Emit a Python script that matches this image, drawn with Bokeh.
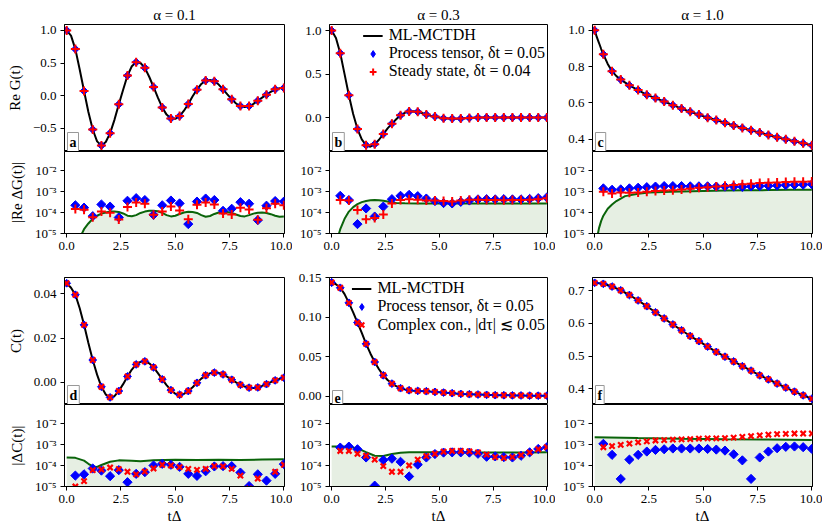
import numpy as np
from bokeh.plotting import figure
from bokeh.layouts import column, row
from bokeh.models import (Range1d, FixedTicker, CustomJSTickFormatter, NumeralTickFormatter,
                          Label)
from bokeh.embed import file_html
from bokeh.resources import INLINE

FONT = "'Liberation Serif'"

# ---------------- data ----------------
t_pts = [0.0, 0.4, 0.8, 1.2, 1.6, 2.0, 2.4, 2.8, 3.2, 3.6, 4.0, 4.4, 4.8, 5.2, 5.6,
         6.0, 6.4, 6.8, 7.2, 7.6, 8.0, 8.4, 8.8, 9.2, 9.6, 10.0]
t_err = t_pts[1:]
t_fine = [0.0, 0.2, 0.4, 0.6, 0.8, 1.0, 1.2, 1.4, 1.6, 1.8, 2.0, 2.2, 2.4, 2.6, 2.8, 3.0,
          3.2, 3.4, 3.6, 3.8, 4.0, 4.2, 4.4, 4.6, 4.8, 5.0, 5.2, 5.4, 5.6, 5.8, 6.0, 6.2,
          6.4, 6.6, 6.8, 7.0, 7.2, 7.4, 7.6, 7.8, 8.0, 8.2, 8.4, 8.6, 8.8, 9.0, 9.2, 9.4,
          9.6, 9.8, 10.0]

# main panel markers (Re G(t) and C(t))
mk_a = [1.0, 0.713, 0.072, -0.518, -0.764, -0.574, -0.133, 0.308, 0.513, 0.426, 0.133, -0.18,
        -0.349, -0.313, -0.128, 0.092, 0.231, 0.221, 0.097, -0.056, -0.159, -0.159, -0.077,
        0.015, 0.097, 0.118]
mk_b = [1.0, 0.740, 0.256, -0.132, -0.318, -0.306, -0.19, -0.07, 0.027, 0.07, 0.066, 0.035,
        0.012, -0.008, -0.012, -0.012, -0.004, 0.0, 0.001, 0.001, 0.0, 0.0, 0.0, 0.0, 0.0, 0.0]
mk_c = [1.0, 0.868, 0.775, 0.729, 0.697, 0.671, 0.645, 0.627, 0.608, 0.588, 0.569, 0.552,
        0.536, 0.519, 0.506, 0.491, 0.476, 0.463, 0.450, 0.437, 0.424, 0.411, 0.400, 0.389,
        0.378, 0.367]
mk_d = [0.0448, 0.0396, 0.026, 0.0101, -0.002, -0.0068, -0.0039, 0.0027, 0.0081, 0.0095,
        0.0068, 0.0014, -0.0035, -0.0056, -0.0039, -0.0002, 0.0032, 0.0044, 0.0036, 0.0012,
        -0.0011, -0.0024, -0.0023, -0.0008, 0.0009, 0.0021]
mk_e = [0.1437, 0.137, 0.118, 0.093, 0.0662, 0.0432, 0.0264, 0.0159, 0.0101, 0.0075, 0.0067,
        0.0063, 0.0054, 0.0046, 0.0038, 0.0029, 0.0025, 0.0021, 0.0017, 0.0013, 0.0012, 0.0010,
        0.0009, 0.0007, 0.0006, 0.0006]
mk_f = [0.7238, 0.7207, 0.7124, 0.701, 0.6866, 0.670, 0.6524, 0.6338, 0.615, 0.5966, 0.579,
        0.5614, 0.5458, 0.5293, 0.5128, 0.4983, 0.4838, 0.4693, 0.4558, 0.4414, 0.429, 0.4165,
        0.4041, 0.3917, 0.3804, 0.370]

# ML-MCTDH lines
ln_a = [1.0, 0.92, 0.713, 0.40, 0.072, -0.25, -0.518, -0.70, -0.764, -0.71, -0.574, -0.37,
        -0.133, 0.09, 0.308, 0.45, 0.513, 0.50, 0.426, 0.29, 0.133, -0.03, -0.18, -0.29, -0.349,
        -0.355, -0.313, -0.23, -0.128, -0.01, 0.092, 0.18, 0.231, 0.24, 0.221, 0.17, 0.097, 0.02,
        -0.056, -0.12, -0.159, -0.172, -0.159, -0.125, -0.077, -0.03, 0.015, 0.06, 0.097, 0.115,
        0.118]
ln_b = [1.0, 0.915, 0.740, 0.50, 0.256, 0.04, -0.132, -0.25, -0.318, -0.335, -0.306, -0.255,
        -0.19, -0.125, -0.07, -0.02, 0.027, 0.055, 0.07, 0.072, 0.066, 0.052, 0.035, 0.022,
        0.012, 0.002, -0.008, -0.011, -0.012, -0.013, -0.012, -0.008, -0.004, -0.002, 0.0,
        0.001, 0.001, 0.001, 0.001, 0.0, 0.0, 0.0, 0.0, 0.0, 0.0, 0.0, 0.0, 0.0, 0.0, 0.0, 0.0]
t_ln_c = [0.0, 0.1, 0.2, 0.3, 0.4, 0.6, 0.8, 1.0, 1.2, 1.6, 2.0, 2.4, 2.8, 3.2, 3.6, 4.0, 4.4,
          4.8, 5.2, 5.6, 6.0, 6.4, 6.8, 7.2, 7.6, 8.0, 8.4, 8.8, 9.2, 9.6, 10.0]
ln_c = [1.0, 0.962, 0.93, 0.897, 0.868, 0.815, 0.775, 0.748, 0.729, 0.697, 0.671, 0.645, 0.627,
        0.608, 0.588, 0.569, 0.552, 0.536, 0.519, 0.506, 0.491, 0.476, 0.463, 0.450, 0.437,
        0.424, 0.411, 0.400, 0.389, 0.378, 0.367]
ln_d = [0.0448, 0.0428, 0.0396, 0.0335, 0.026, 0.0178, 0.0101, 0.0035, -0.002, -0.0055,
        -0.0068, -0.0062, -0.0039, -0.0008, 0.0027, 0.0058, 0.0081, 0.0093, 0.0095, 0.0086,
        0.0068, 0.0042, 0.0014, -0.0012, -0.0035, -0.0051, -0.0056, -0.0052, -0.0039, -0.0022,
        -0.0002, 0.0017, 0.0032, 0.0041, 0.0044, 0.0043, 0.0036, 0.0025, 0.0012, 0.0000,
        -0.0011, -0.0019, -0.0024, -0.0025, -0.0023, -0.0016, -0.0008, 0.0001, 0.0009, 0.0016,
        0.0021]
t_ln_e = [0.0, 0.2, 0.4, 0.6, 0.8, 1.0, 1.2, 1.4, 1.6, 1.8, 2.0, 2.2, 2.4, 2.6, 2.8, 3.0, 3.2,
          3.4, 3.6, 3.8, 4.0, 4.4, 4.8, 5.2, 5.6, 6.0, 6.4, 6.8, 7.2, 7.6, 8.0, 8.4, 8.8, 9.2,
          9.6, 10.0]
ln_e = [0.1437, 0.1415, 0.137, 0.129, 0.118, 0.106, 0.093, 0.080, 0.0662, 0.054, 0.0432, 0.034,
        0.0264, 0.0205, 0.0159, 0.0127, 0.0101, 0.0086, 0.0075, 0.0070, 0.0067, 0.0063, 0.0054,
        0.0046, 0.0038, 0.0029, 0.0025, 0.0021, 0.0017, 0.0013, 0.0012, 0.0010, 0.0009, 0.0007,
        0.0006, 0.0006]
ln_f = mk_f

# errors (t = 0.4 ... 10)
er_a_pt = [2.2e-4, 1.7e-4, 6.7e-5, 2.4e-4, 1.9e-4, 5.8e-5, 3.6e-4, 4.8e-4, 3.9e-4, 7.7e-5,
           2.2e-4, 3.7e-4, 2.7e-4, 2.8e-5, 3.3e-4, 4.6e-4, 3.9e-4, 1.2e-4, 1.5e-4, 3.1e-4,
           2.6e-4, 4.3e-5, 2.1e-4, 3.5e-4, 3.3e-4]
er_a_ss = [1.45e-4, 1.35e-4, 6.0e-5, 1.1e-4, 9.6e-5, 4.6e-5, 1.8e-4, 3.0e-4, 2.6e-4, 7.7e-5,
           1.1e-4, 1.9e-4, 1.25e-4, 4.8e-5, 2.3e-4, 3.0e-4, 2.4e-4, 9.0e-5, 8.0e-5, 1.7e-4,
           1.4e-4, 4.5e-5, 1.6e-4, 2.6e-4, 2.2e-4]
er_b_pt = [6.2e-4, 3.9e-4, 2.8e-5, 1.55e-4, 6.4e-5, 1.9e-4, 4.3e-4, 6.2e-4, 6.9e-4, 6.0e-4,
           4.6e-4, 3.5e-4, 2.8e-4, 2.7e-4, 3.2e-4, 3.7e-4, 4.2e-4, 4.3e-4, 4.2e-4, 4.3e-4,
           4.2e-4, 4.2e-4, 4.4e-4, 4.8e-4, 5.2e-4]
er_b_ss = [3.9e-4, 3.7e-4, 1.3e-4, 4.8e-5, 5.4e-5, 8.0e-5, 2.7e-4, 3.9e-4, 4.3e-4, 4.0e-4,
           3.7e-4, 3.7e-4, 3.5e-4, 3.3e-4, 3.7e-4, 4.0e-4, 4.0e-4, 3.9e-4, 3.9e-4, 3.8e-4,
           3.9e-4, 3.9e-4, 4.0e-4, 4.3e-4, 4.8e-4]
er_c_pt = [1.4e-3, 1.2e-3, 1.25e-3, 1.4e-3, 1.5e-3, 1.6e-3, 1.7e-3, 1.8e-3, 1.8e-3, 1.8e-3,
           1.75e-3, 1.75e-3, 1.75e-3, 1.7e-3, 1.7e-3, 1.7e-3, 1.65e-3, 1.75e-3, 1.8e-3, 1.85e-3,
           1.9e-3, 2.0e-3, 2.05e-3, 2.1e-3, 2.2e-3]
er_c_ss = [9.6e-4, 8.0e-4, 9.0e-4, 8.6e-4, 9.0e-4, 9.6e-4, 1.04e-3, 1.1e-3, 1.15e-3, 1.25e-3,
           1.35e-3, 1.5e-3, 1.6e-3, 1.7e-3, 1.85e-3, 2.0e-3, 2.2e-3, 2.35e-3, 2.5e-3, 2.6e-3,
           2.7e-3, 2.8e-3, 2.9e-3, 2.9e-3, 3.0e-3]
er_d_pt = [3.3e-5, 3.8e-5, 7.2e-5, 5.7e-5, 3.1e-5, 6.0e-5, 1.6e-5, 4.0e-5, 4.8e-5, 1.0e-4,
           1.2e-4, 1.08e-4, 8.6e-5, 4.0e-5, 3.2e-5, 5.3e-5, 9.0e-5, 9.3e-5, 9.3e-5, 4.6e-5,
           1.05e-5, 3.8e-5, 1.9e-5, 4.0e-5, 1.16e-4]
er_d_cc = [1.0e-5, 1.8e-5, 6.0e-5, 6.4e-5, 8.0e-5, 6.7e-5, 5.0e-5, 3.8e-5, 5.1e-5, 7.2e-5,
           1.08e-4, 1.0e-4, 8.3e-5, 6.9e-5, 6.2e-5, 6.9e-5, 9.3e-5, 9.0e-5, 6.9e-5, 3.3e-5,
           8.0e-6, 2.4e-5, 7.0e-6, 5.0e-5, 1.08e-4]
er_e_pt = [7.1e-4, 7.9e-4, 5.9e-4, 2.4e-4, 1.1e-5, 1.8e-4, 2.1e-4, 1.5e-4, 3.0e-5, 1.1e-4,
           2.4e-4, 3.5e-4, 4.1e-4, 4.2e-4, 4.2e-4, 4.1e-4, 3.6e-4, 2.6e-4, 2.7e-4, 2.5e-4,
           2.4e-4, 2.9e-4, 4.2e-4, 6.1e-4, 7.4e-4]
er_e_cc = [4.9e-4, 4.9e-4, 3.6e-4, 2.9e-4, 1.9e-4, 9.3e-5, 5.0e-5, 5.0e-5, 1.0e-4, 1.9e-4,
           2.8e-4, 3.6e-4, 4.5e-4, 4.9e-4, 4.9e-4, 4.7e-4, 4.2e-4, 3.3e-4, 2.5e-4, 2.3e-4,
           2.5e-4, 3.1e-4, 4.2e-4, 5.9e-4, 7.4e-4]
er_f_pt = [1.07e-3, 3.2e-4, 2.3e-5, 1.9e-4, 3.2e-4, 4.6e-4, 5.5e-4, 5.9e-4, 6.4e-4, 6.4e-4,
           6.4e-4, 6.4e-4, 6.1e-4, 5.7e-4, 5.1e-4, 3.4e-4, 1.75e-4, 2.3e-5, 2.4e-4, 4.6e-4,
           6.6e-4, 7.7e-4, 8.0e-4, 7.4e-4, 6.1e-4]
er_f_cc = [7.4e-4, 8.3e-4, 9.6e-4, 1.1e-3, 1.25e-3, 1.4e-3, 1.55e-3, 1.6e-3, 1.7e-3, 1.75e-3,
           1.8e-3, 1.9e-3, 1.95e-3, 1.95e-3, 2.0e-3, 2.1e-3, 2.3e-3, 2.5e-3, 2.7e-3, 2.9e-3,
           3.1e-3, 3.2e-3, 3.3e-3, 3.3e-3, 3.3e-3]

# green error-estimate curves
gr_a_t = t_fine[3:]
gr_a = [6e-6, 1.6e-5, 3e-5, 5e-5, 7e-5, 8.8e-5, 1.0e-4, 1.1e-4, 1.12e-4, 1.05e-4, 9e-5, 7e-5,
        6.6e-5, 7.5e-5, 9.5e-5, 1.1e-4, 1.2e-4, 1.22e-4, 1.15e-4, 9.5e-5, 7.5e-5, 6.5e-5, 7e-5,
        8.5e-5, 1.0e-4, 1.08e-4, 1.05e-4, 9.5e-5, 7.5e-5, 6.3e-5, 6.8e-5, 8.5e-5, 1.0e-4,
        1.08e-4, 1.05e-4, 9.5e-5, 8e-5, 6.8e-5, 6.5e-5, 7.5e-5, 8.8e-5, 9.8e-5, 1.0e-4, 9.5e-5,
        8.3e-5, 7e-5, 6.3e-5, 6.5e-5]
gr_b_t = [0.3, 0.34, 0.4, 0.6, 0.8, 1.0, 1.2, 1.4, 1.6, 1.8, 2.0, 2.2, 2.4, 2.6, 2.8, 3.0, 3.4,
          4.0, 5.0, 6.0, 7.0, 8.0, 9.0, 10.0]
gr_b = [5e-6, 1e-5, 1.6e-5, 5e-5, 1.1e-4, 1.8e-4, 2.5e-4, 3.1e-4, 3.5e-4, 3.8e-4, 3.9e-4,
        3.85e-4, 3.6e-4, 3.3e-4, 3.0e-4, 2.85e-4, 2.75e-4, 2.7e-4, 2.7e-4, 2.7e-4, 2.7e-4,
        2.7e-4, 2.7e-4, 2.7e-4]
gr_c_t = [0.12, 0.15, 0.2, 0.3, 0.4, 0.6, 0.8, 1.0, 1.4, 2.0, 2.5, 3.5, 5.0, 6.0, 7.0, 8.0, 9.0,
          10.0]
gr_c = [5e-6, 1e-5, 1.8e-5, 4e-5, 7e-5, 1.5e-4, 2.4e-4, 3.5e-4, 6e-4, 7.8e-4, 8.8e-4, 9.8e-4,
        1.05e-3, 1.1e-3, 1.13e-3, 1.16e-3, 1.2e-3, 1.22e-3]
gr_d_t = [0.0, 0.4, 0.8, 1.0, 1.2, 1.4, 1.6, 2.0, 2.4, 3.0, 3.4, 4.0, 5.0, 6.0, 7.0, 8.0, 9.0,
          10.0]
gr_d = [2.4e-4, 2.3e-4, 1.7e-4, 1.2e-4, 9e-5, 8.5e-5, 1.05e-4, 1.5e-4, 1.75e-4, 1.7e-4, 1.6e-4,
        1.75e-4, 1.85e-4, 1.8e-4, 1.85e-4, 1.8e-4, 1.9e-4, 2.0e-4]
gr_e_t = [0.0, 0.4, 0.8, 1.2, 1.6, 2.0, 2.4, 2.8, 3.2, 3.6, 4.0, 5.0, 6.0, 7.0, 8.0, 9.0, 10.0]
gr_e = [8e-4, 8e-4, 7.8e-4, 6.5e-4, 4.3e-4, 2.9e-4, 2.8e-4, 3.5e-4, 4.0e-4, 4.2e-4, 4.2e-4,
        4.2e-4, 4.2e-4, 4.1e-4, 4.1e-4, 4.1e-4, 4.2e-4]
gr_f_t = [0.0, 2.0, 4.0, 6.0, 8.0, 10.0]
gr_f = [2.2e-3, 2.0e-3, 1.85e-3, 1.75e-3, 1.7e-3, 1.65e-3]

titles = ["α = 0.1", "α = 0.3", "α = 1.0"]
x_ticks = [0, 2.5, 5, 7.5, 10]
log_ticks = [1e-5, 1e-4, 1e-3, 1e-2]

# ---------------- layout / style ----------------
XR = (-0.1, 10.03)
LOGR = (1e-5, 10 ** -1.1)
FWS = [220, 218, 220]
BORD = [(64, 8), (37, 8), (37, 10)]
BLUE = "#0000ff"
RED = "#ff0000"
GREEN = "#0a640a"
FILL = "#e6efe3"

LOGJS = """
const e = Math.round(Math.log10(tick));
const sup = {"-":"\u207b","0":"\u2070","1":"\u00b9","2":"\u00b2","3":"\u00b3","4":"\u2074",
             "5":"\u2075","6":"\u2076","7":"\u2077","8":"\u2078","9":"\u2079"};
return "10" + String(e).split("").map(c => sup[c]).join("");
"""


def lin_fmt(nd):
    return CustomJSTickFormatter(code="return tick.toFixed(%d).replace('-', '\\u2212');" % nd)


def style(p):
    p.grid.visible = False
    p.outline_line_color = "black"
    p.outline_line_width = 1
    p.outline_line_alpha = 1
    for ax in p.axis:
        ax.axis_line_color = "black"
        ax.major_tick_line_color = "black"
        ax.minor_tick_line_color = None
        ax.major_tick_out = 4
        ax.major_tick_in = 0
        ax.major_label_text_font = FONT
        ax.major_label_text_font_size = "13px"
        ax.major_label_text_color = "black"
        ax.major_label_standoff = 4
        ax.axis_label_text_font = FONT
        ax.axis_label_text_font_size = "15px"
        ax.axis_label_text_font_style = "normal"
        ax.axis_label_text_color = "black"
        ax.axis_label_standoff = 7


def main_fig(col, yr, yticks, nd, t_line, y_line, mk, red_marker, letter,
             top=0, title=None, ylabel=None, legend=None):
    left, right = BORD[col]
    kw = {}
    if title is not None:
        kw["title"] = title
    p = figure(frame_width=FWS[col], frame_height=127, x_range=Range1d(*XR),
               y_range=Range1d(*yr), x_axis_location=None, toolbar_location=None,
               output_backend="svg", min_border_left=left, min_border_right=right,
               min_border_top=top, min_border_bottom=0, **kw)
    if title is not None:
        p.title.align = "center"
        p.title.vertical_align = "bottom"
        p.title.text_font = FONT
        p.title.text_font_size = "15px"
        p.title.text_font_style = "normal"
        p.title.text_color = "black"
        p.title.standoff = 4
    p.yaxis.ticker = FixedTicker(ticks=yticks)
    p.yaxis.formatter = lin_fmt(nd)
    if ylabel:
        p.yaxis.axis_label = ylabel
    style(p)
    lg_kw = [dict(legend_label=s) for s in legend] if legend else [{}, {}, {}]
    p.line(t_line, y_line, line_color="black", line_width=2, **lg_kw[0])
    p.scatter(t_pts, mk, marker="square", angle=np.pi / 4, size=5.5, fill_color=BLUE,
              line_color=BLUE)
    if legend:
        # legend proxy (diamond shape), drawn under the first blue mark
        p.scatter(t_pts[:1], mk[:1], marker="diamond", size=8, fill_color=BLUE,
                  line_color=BLUE, **lg_kw[1])
    if red_marker == "cross":
        p.scatter(t_pts, mk, marker="cross", size=9, line_color=RED, line_width=2, **lg_kw[2])
    else:
        p.scatter(t_pts, mk, marker="x", size=7.5, line_color=RED, line_width=2.2, **lg_kw[2])
    p.add_layout(Label(x=XR[0], y=yr[0], text=letter, x_offset=3, y_offset=0,
                       text_align="left", text_baseline="bottom", text_font=FONT,
                       text_font_size="14px", text_font_style="bold", text_color="black",
                       background_fill_color="white", border_line_color="#999999",
                       border_line_width=1, padding=2))
    if legend:
        lg = p.legend[0]
        lg.location = "top_right"
        lg.label_text_font = FONT
        lg.label_text_font_size = "16px"
        lg.label_text_color = "black"
        lg.background_fill_alpha = 0
        lg.border_line_alpha = 0
        lg.spacing = 0
        lg.padding = 1
        lg.margin = 1
        lg.glyph_width = 20
        lg.glyph_height = 17
        lg.label_height = 17
        lg.label_standoff = 6
    return p


def err_fig(col, bottom, pt, other, red_marker, g_t, g_v, ylabel=None, xlabel=None):
    left, right = BORD[col]
    p = figure(frame_width=FWS[col], frame_height=82, x_range=Range1d(*XR),
               y_range=Range1d(*LOGR), y_axis_type="log", toolbar_location=None,
               output_backend="svg", min_border_left=left, min_border_right=right,
               min_border_top=0, min_border_bottom=bottom)
    p.yaxis.ticker = FixedTicker(ticks=log_ticks)
    p.yaxis.formatter = CustomJSTickFormatter(code=LOGJS)
    p.xaxis.ticker = FixedTicker(ticks=x_ticks)
    p.xaxis.formatter = NumeralTickFormatter(format="0.0")
    if ylabel:
        p.yaxis.axis_label = ylabel
    if xlabel:
        p.xaxis.axis_label = xlabel
    style(p)
    p.xaxis.axis_label_standoff = 2
    p.varea(x=g_t, y1=[1e-7] * len(g_t), y2=g_v, fill_color=FILL, fill_alpha=1)
    p.line(g_t, g_v, line_color=GREEN, line_width=2)
    p.scatter(t_err, pt, marker="square", angle=np.pi / 4, size=6.5, fill_color=BLUE,
              line_color=BLUE)
    if red_marker == "cross":
        p.scatter(t_err, other, marker="cross", size=9, line_color=RED, line_width=2)
    else:
        p.scatter(t_err, other, marker="x", size=7.5, line_color=RED, line_width=2.2)
    return p


legend_top = ["ML-MCTDH", "Process tensor, δt = 0.05", "Steady state, δt = 0.04"]
legend_bot = ["ML-MCTDH", "Process tensor, δt = 0.05", "Complex con., |dτ| ≲ 0.05"]

a1 = main_fig(0, (-0.855, 1.09), [-0.5, 0.0, 0.5, 1.0], 1, t_fine, ln_a, mk_a, "cross", "a",
              top=24, title=titles[0], ylabel="Re G(t)")
b1 = main_fig(1, (-0.39, 1.07), [0.0, 0.5, 1.0], 1, t_fine, ln_b, mk_b, "cross", "b",
              top=24, title=titles[1], legend=legend_top)
c1 = main_fig(2, (0.333, 1.032), [0.4, 0.6, 0.8, 1.0], 1, t_ln_c, ln_c, mk_c, "cross", "c",
              top=24, title=titles[2])

a2 = err_fig(0, 36, er_a_pt, er_a_ss, "cross", gr_a_t, gr_a, ylabel="|Re ΔG(t)|")
b2 = err_fig(1, 36, er_b_pt, er_b_ss, "cross", gr_b_t, gr_b)
c2 = err_fig(2, 36, er_c_pt, er_c_ss, "cross", gr_c_t, gr_c)

d1 = main_fig(0, (-0.0100, 0.0474), [0.0, 0.02, 0.04], 2, t_fine, ln_d, mk_d, "x", "d",
              top=8, ylabel="C(t)")
e1 = main_fig(1, (-0.0105, 0.150), [0.0, 0.05, 0.10, 0.15], 2, t_ln_e, ln_e, mk_e, "x", "e",
              top=8, legend=legend_bot)
f1 = main_fig(2, (0.3525, 0.740), [0.4, 0.5, 0.6, 0.7], 1, t_pts, ln_f, mk_f, "x", "f",
              top=8)

d2 = err_fig(0, 42, er_d_pt, er_d_cc, "x", gr_d_t, gr_d, ylabel="|ΔC(t)|", xlabel="tΔ")
e2 = err_fig(1, 42, er_e_pt, er_e_cc, "x", gr_e_t, gr_e, xlabel="tΔ")
f2 = err_fig(2, 42, er_f_pt, er_f_cc, "x", gr_f_t, gr_f, xlabel="tΔ")

layout = column(row(a1, b1, c1), row(a2, b2, c2), row(d1, e1, f1), row(d2, e2, f2))

open("out.html", "w").write(file_html(layout, INLINE))
